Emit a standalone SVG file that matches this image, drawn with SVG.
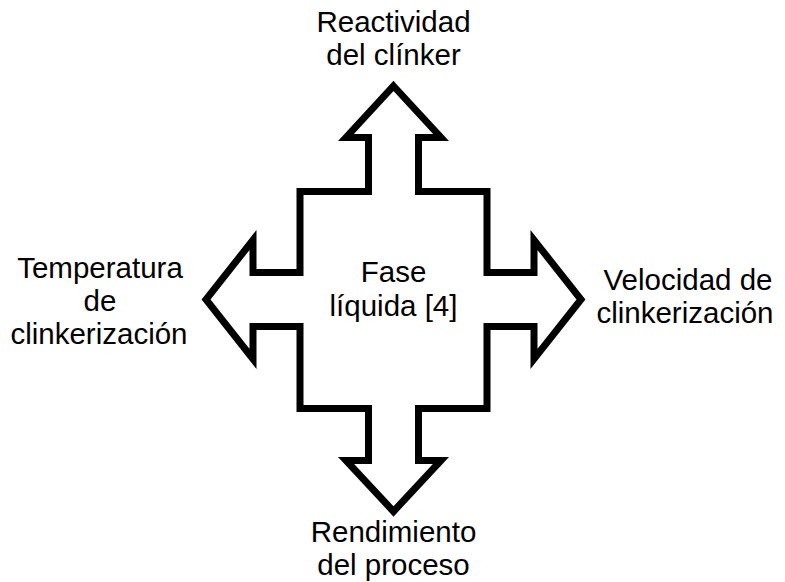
<svg xmlns="http://www.w3.org/2000/svg" width="785" height="582" viewBox="0 0 785 582">
<style>
.shape{fill:#ffffff;stroke:#000000;stroke-width:7;stroke-linejoin:miter;stroke-miterlimit:10}
text{font-family:"Liberation Sans",Arial,sans-serif;font-size:29.5px;fill:#000000;text-anchor:middle}
</style>
<rect width="785" height="582" fill="#ffffff"/>
<g id="connectors"></g>
<g id="center">
<polygon class="shape" points="393.5,86 441,137.5 418.5,137.5 418.5,191.5 487,191.5 487,272.5 534,272.5 534,240 581,299.5 534,359 534,326.5 487,326.5 487,408.5 418.5,408.5 418.5,460.5 441,460.5 393.5,511.5 346,460.5 368.5,460.5 368.5,408.5 300,408.5 300,326.5 253,326.5 253,359 206,299.5 253,240 253,272.5 300,272.5 300,191.5 368.5,191.5 368.5,137.5 346,137.5"/>
<text x="393.5" y="282">Fase</text>
<text x="393.5" y="316">líquida [4]</text>
</g>
<g id="top">
<text x="393.5" y="32">Reactividad</text>
<text x="393.5" y="65">del clínker</text>
</g>
<g id="left">
<text x="100" y="278">Temperatura</text>
<text x="100" y="311">de</text>
<text x="99" y="344">clinkerización</text>
</g>
<g id="right">
<text x="688" y="290">Velocidad de</text>
<text x="685" y="323">clinkerización</text>
</g>
<g id="bottom">
<text x="393.5" y="542">Rendimiento</text>
<text x="393.5" y="575">del proceso</text>
</g>
</svg>
